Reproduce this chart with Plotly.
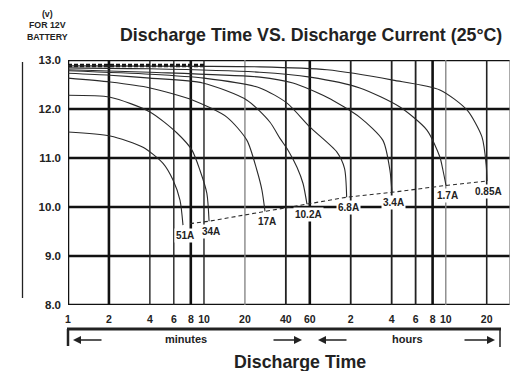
import math
import plotly.graph_objects as go

# ---------------- data ----------------
currents = ["51A", "34A", "17A", "10.2A", "6.8A", "3.4A", "1.7A", "0.85A"]

# discharge time (minutes) / terminal voltage (V)
t_51 = [1, 2.04, 3.56, 5.0, 5.92, 6.66, 7.01]
v_51 = [11.53, 11.45, 11.22, 10.89, 10.55, 10.14, 9.63]
t_34 = [1, 2.04, 4.01, 6.33, 8.16, 9.34, 10.5, 10.9]
v_34 = [12.28, 12.24, 11.94, 11.51, 11.16, 10.75, 10.28, 9.71]
t_17 = [1, 2.04, 4.01, 8.3, 14.8, 20.7, 24.5, 26.7, 28.1]
v_17 = [12.63, 12.55, 12.43, 12.18, 11.83, 11.36, 10.75, 10.34, 9.91]
t_10 = [1, 2.04, 4.01, 9.8, 20.7, 30.6, 36.2, 41.5, 48.3, 53.5, 57.2]
v_10 = [12.73, 12.69, 12.63, 12.53, 12.18, 11.73, 11.40, 11.16, 10.81, 10.48, 10.06]
t_68 = [1, 4.01, 10, 25.8, 40.8, 60.2, 95, 108, 112]
v_68 = [12.78, 12.71, 12.63, 12.43, 12.12, 11.63, 11.12, 10.79, 10.20]
t_34h = [1, 4, 25.8, 45.1, 80.2, 140, 207, 233, 241]
v_34h = [12.80, 12.75, 12.65, 12.53, 12.24, 11.83, 11.36, 10.75, 10.30]
t_17h = [1, 4, 25.8, 60.2, 140, 276, 436, 543, 572, 602]
v_17h = [12.84, 12.82, 12.75, 12.65, 12.43, 12.04, 11.57, 11.02, 10.75, 10.44]
t_085 = [1, 25.8, 80.2, 245, 543, 859, 1107, 1190, 1205]
v_085 = [12.88, 12.86, 12.80, 12.59, 12.39, 11.98, 11.43, 10.85, 10.53]

curve_t = [t_51, t_34, t_17, t_10, t_68, t_34h, t_17h, t_085]
curve_v = [v_51, v_34, v_17, v_10, v_68, v_34h, v_17h, v_085]

# final-voltage line (dashed) joining the curve ends
end_t = [7.89, 10.9, 28.1, 57.2, 112, 241, 602, 1205]
end_v = [9.66, 9.71, 9.91, 10.06, 10.20, 10.30, 10.44, 10.53]

# float line at the top (dotted)
float_t = [1, 10]
float_v = [12.89, 12.89]

# axes
x_tickvals = [1, 2, 4, 6, 8, 10, 20, 40, 60, 120, 240, 360, 480, 600, 1200]
x_ticktext = ["1", "2", "4", "6", "8", "10", "20", "40", "60", "2", "4", "6", "8", "10", "20"]
y_tickvals = [8, 9, 10, 11, 12, 13]
y_ticktext = ["8.0", "9.0", "10.0", "11.0", "12.0", "13.0"]
x_max = 1780

# vertical grid line styles (value, colour, width)
vgrid = [(1, "#111", 2.5), (2, "#111", 2.6), (4, "#222", 1.4), (6, "#222", 1.4),
         (8, "#111", 2.6), (10, "#222", 1.4), (20, "#888", 1.4), (40, "#222", 1.8),
         (60, "#111", 2.6), (120, "#222", 1.8), (240, "#222", 1.8), (360, "#222", 1.8),
         (480, "#111", 2.6), (600, "#888", 1.4), (1200, "#222", 1.6), (x_max, "#888", 1.4)]

FONT = "Liberation Sans, Arial, sans-serif"

fig = go.Figure()

# horizontal grid lines
for yv in y_tickvals:
    fig.add_trace(go.Scatter(x=[1, x_max], y=[yv, yv], mode="lines",
                             line=dict(color="#111", width=2.6),
                             hoverinfo="skip", showlegend=False, cliponaxis=False))
# vertical grid lines
for xv, col, w in vgrid:
    fig.add_trace(go.Scatter(x=[xv, xv], y=[8, 13], mode="lines",
                             line=dict(color=col, width=w),
                             hoverinfo="skip", showlegend=False, cliponaxis=False))

# float dotted line
fig.add_trace(go.Scatter(x=float_t, y=float_v, mode="lines",
                         line=dict(color="#111", width=3.5, dash="4px,2px"),
                         hoverinfo="skip", showlegend=False))

# discharge curves
for name, tt, vv in zip(currents, curve_t, curve_v):
    fig.add_trace(go.Scatter(x=tt, y=vv, mode="lines", name=name,
                             line=dict(color="#2a2a2a", width=1.1, shape="spline", smoothing=0.7),
                             showlegend=False))

# end-voltage dashed line
fig.add_trace(go.Scatter(x=end_t, y=end_v, mode="lines",
                         line=dict(color="#2a2a2a", width=1.1, dash="4px,3px"),
                         hoverinfo="skip", showlegend=False))

annotations = []
# curve labels
for name, tt, vv in zip(currents, curve_t, curve_v):
    annotations.append(dict(x=math.log10(tt[-1]), y=vv[-1], xref="x", yref="y",
                            text=name, showarrow=False, yanchor="top", xanchor="center",
                            yshift=-3, xshift=2, bgcolor="white", borderpad=1,
                            font=dict(family=FONT, size=10, color="#222", weight="bold")))

# the page body has an 8px margin, so the figure is drawn 8px smaller/shifted
OFF = 8
W, H = 521 - OFF, 371 - OFF
L, R, T, B = 68 - OFF, 11, 60 - OFF, 66
pw, ph = W - L - R, H - T - B


def px(x):  # reference-picture x -> paper
    return (x - OFF - L) / pw


def py(y):  # reference-picture y -> paper
    return (H - B - (y - OFF)) / ph


# titles
annotations.append(dict(x=px(311), y=py(35), xref="paper", yref="paper",
                        text="Discharge Time VS. Discharge Current (25°C)", showarrow=False,
                        xanchor="center", yanchor="middle",
                        font=dict(family=FONT, size=17.8, color="#222", weight="bold")))
annotations.append(dict(x=px(300), y=py(362), xref="paper", yref="paper",
                        text="Discharge Time", showarrow=False,
                        xanchor="center", yanchor="middle",
                        font=dict(family=FONT, size=17.8, color="#222", weight="bold")))
annotations.append(dict(x=px(47), y=py(26), xref="paper", yref="paper",
                        text="(v)<br>FOR 12V<br>BATTERY", showarrow=False,
                        xanchor="center", yanchor="middle", align="center",
                        font=dict(family=FONT, size=8.8, color="#222", weight="bold")))
annotations.append(dict(x=px(186), y=py(339), xref="paper", yref="paper",
                        text="minutes", showarrow=False, xanchor="center", yanchor="middle",
                        font=dict(family=FONT, size=11, color="#222", weight="bold")))
annotations.append(dict(x=px(407), y=py(339), xref="paper", yref="paper",
                        text="hours", showarrow=False, xanchor="center", yanchor="middle",
                        font=dict(family=FONT, size=11, color="#222", weight="bold")))
# arrows (tip, tail)
for tip, tail in [(73, 103), (302, 272), (318, 348), (495, 463)]:
    annotations.append(dict(x=px(tip), y=py(340), xref="paper", yref="paper",
                            ax=tail - tip, ay=0, text="", showarrow=True,
                            arrowhead=2, arrowsize=1, arrowwidth=1.6, arrowcolor="#222"))

shapes = [
    # bracket under the axis
    dict(type="line", xref="paper", yref="paper", x0=px(67), x1=px(501), y0=py(329), y1=py(329),
         line=dict(color="#222", width=3)),
    dict(type="line", xref="paper", yref="paper", x0=px(68), x1=px(68), y0=py(329), y1=py(346),
         line=dict(color="#222", width=2.5)),
    dict(type="line", xref="paper", yref="paper", x0=px(500), x1=px(500), y0=py(329), y1=py(347),
         line=dict(color="#222", width=1.5)),
    # left axis bar
    dict(type="line", xref="paper", yref="paper", x0=px(22.5), x1=px(22.5), y0=py(62), y1=py(298),
         line=dict(color="#222", width=1.3)),
]

fig.update_layout(
    width=W, height=H, margin=dict(l=L, r=R, t=T, b=B, pad=0),
    paper_bgcolor="white", plot_bgcolor="white",
    showlegend=False,
    xaxis=dict(type="log", range=[0, math.log10(x_max)], showgrid=False, zeroline=False,
               showline=False, tickvals=x_tickvals, ticktext=x_ticktext, ticks="",
               ticklabelstandoff=6,
               tickfont=dict(family=FONT, size=10.5, color="#222", weight="bold")),
    yaxis=dict(range=[8, 13], showgrid=False, zeroline=False, showline=False,
               tickvals=y_tickvals, ticktext=y_ticktext, ticks="", ticklabelstandoff=6,
               tickfont=dict(family=FONT, size=11.5, color="#222", weight="bold")),
    annotations=annotations, shapes=shapes,
)

fig.write_html("out.html")
